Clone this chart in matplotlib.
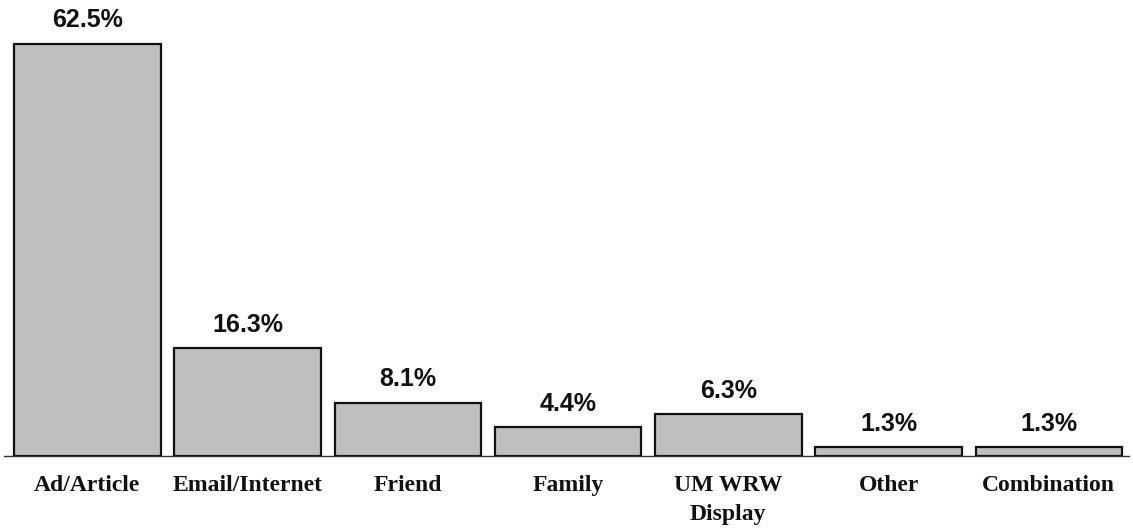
import matplotlib
matplotlib.use("Agg")
import matplotlib.pyplot as plt

categories = ["Ad/Article", "Email/Internet", "Friend", "Family", "UM WRW\nDisplay", "Other", "Combination"]
values = [62.5, 16.3, 8.1, 4.4, 6.3, 1.3, 1.3]
value_labels = ["62.5%", "16.3%", "8.1%", "4.4%", "6.3%", "1.3%", "1.3%"]

fig = plt.figure(figsize=(11.33, 5.29), dpi=100)
ax = fig.add_axes([4/1133, (529-456)/529, 1125/1133, 456/529])

x = list(range(len(categories)))
bars = ax.bar(x, values, width=0.915, color="#bfbfbf", edgecolor="#111111", linewidth=1.6, zorder=2)

for xi, v, lab in zip(x, values, value_labels):
    ax.annotate(lab, (xi, v), xytext=(0, 8), textcoords="offset points",
                ha="center", va="bottom", fontsize=18, fontweight="bold",
                family="Liberation Sans", color="#111111")

ax.set_xlim(-0.52, 6.5)
ax.set_ylim(0, 69.1)
ax.set_xticks(x)
ax.set_xticklabels(categories, family="Liberation Serif", fontweight="bold", fontsize=17,
                   color="#111111", linespacing=1.45)
ax.tick_params(axis="x", length=0, pad=14)
ax.set_yticks([])
for s in ["top", "right", "left"]:
    ax.spines[s].set_visible(False)
ax.spines["bottom"].set_color("#333333")
ax.spines["bottom"].set_linewidth(1.0)

fig.savefig("out.png", dpi=100)
